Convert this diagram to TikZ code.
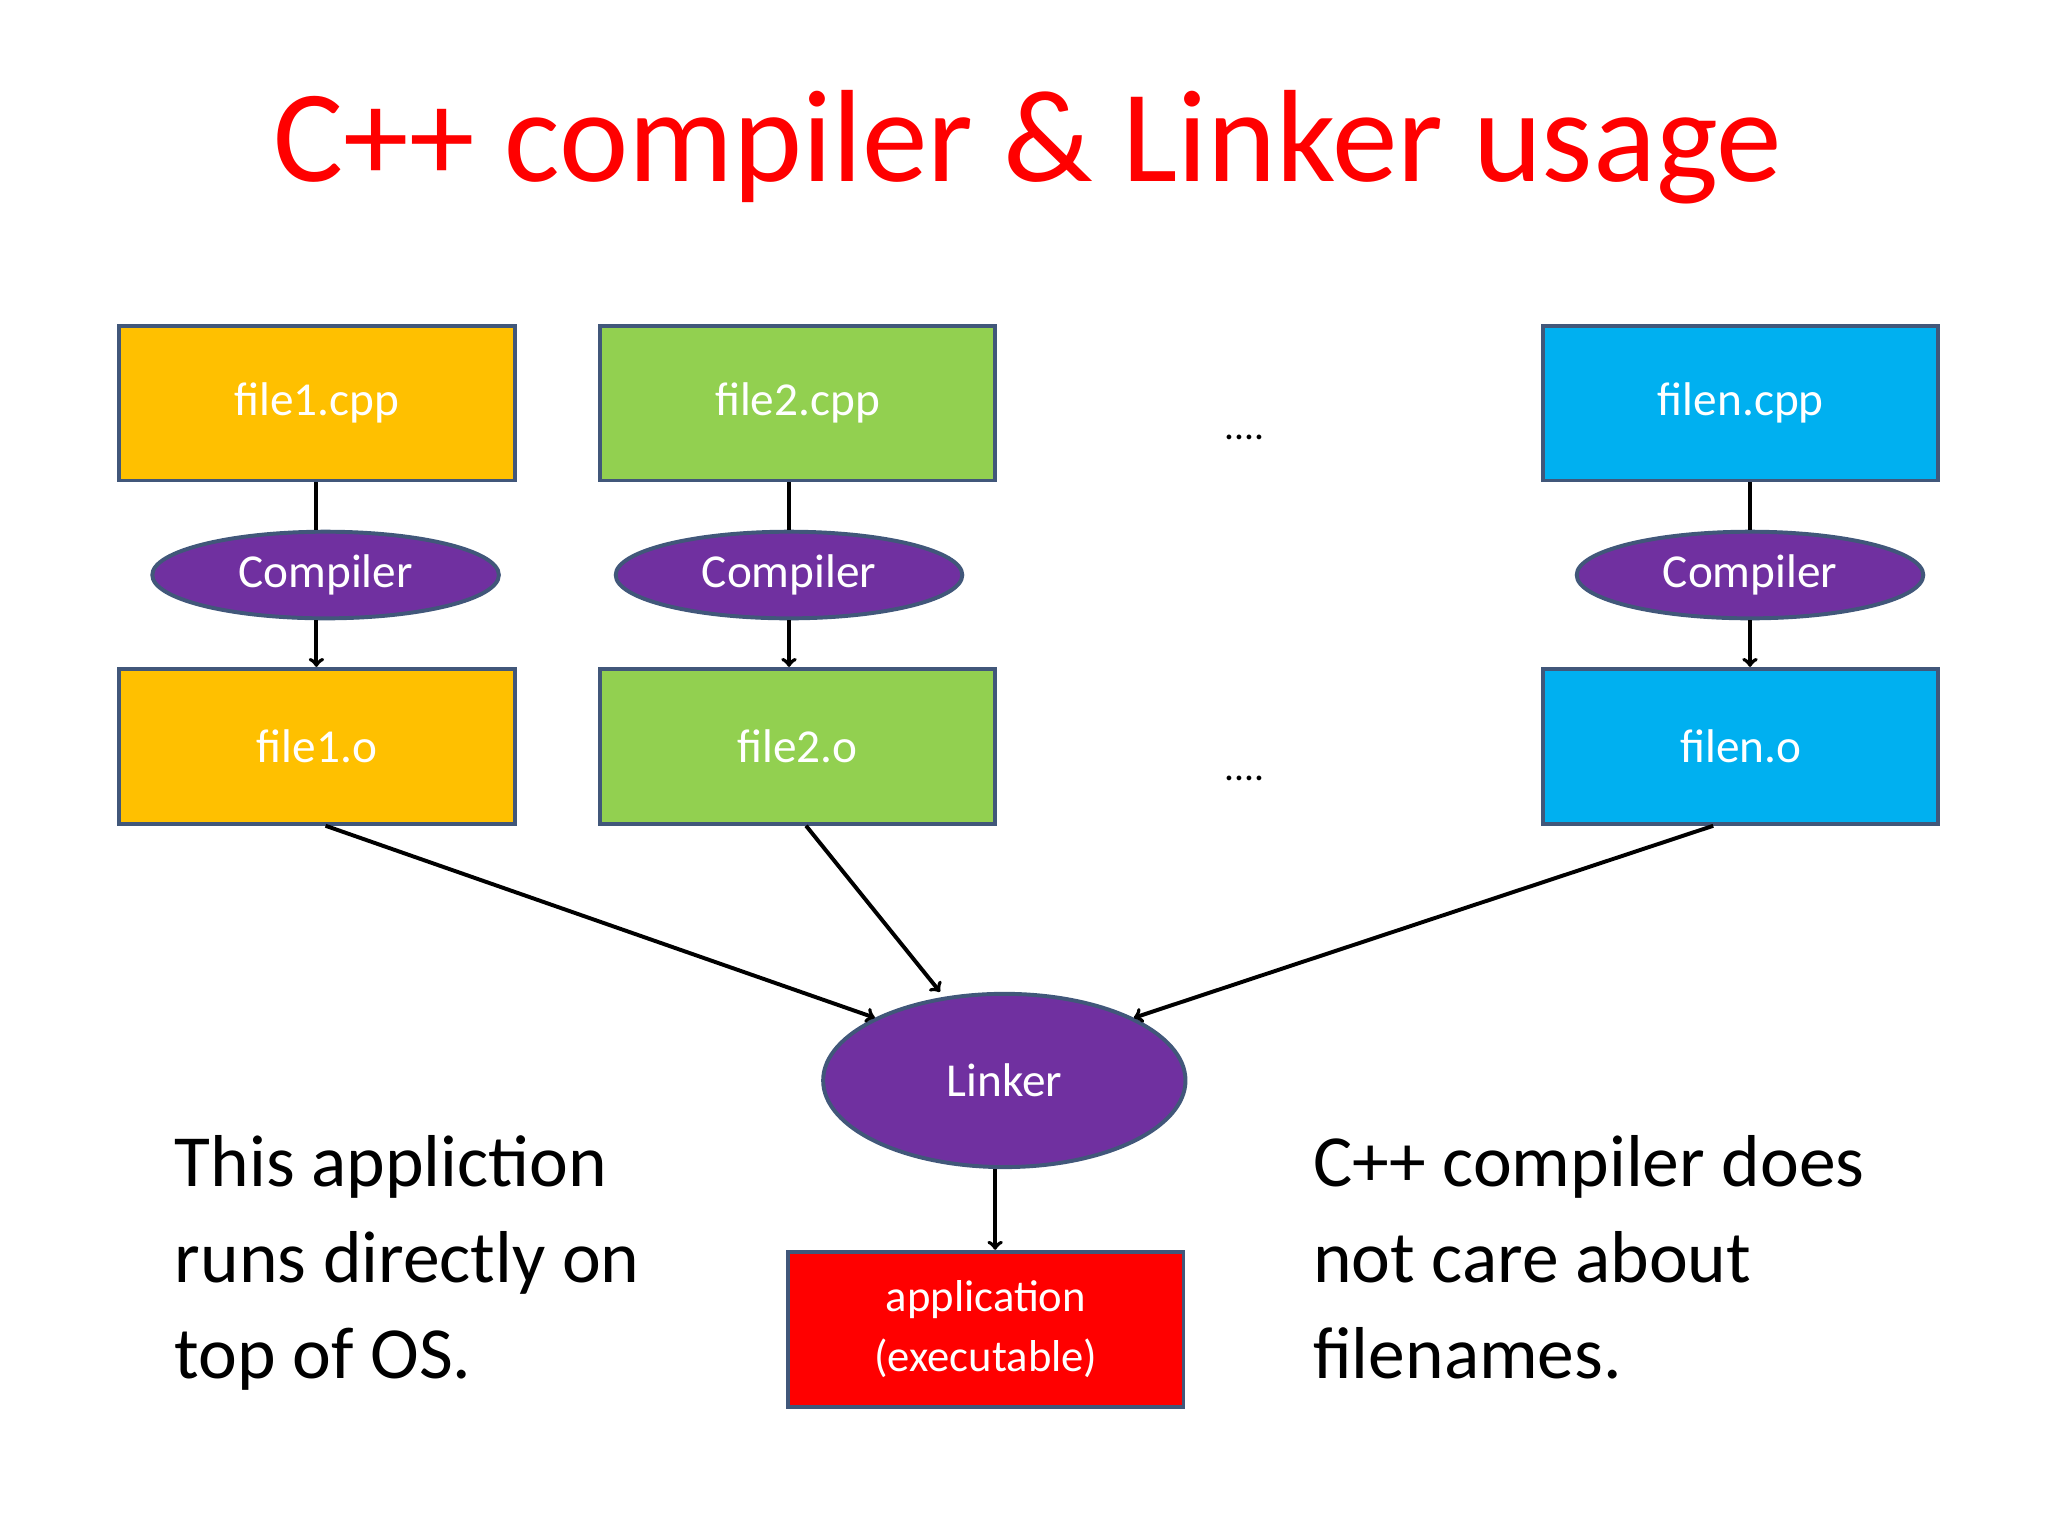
\documentclass[tikz,border=0pt]{standalone}
\usepackage{fontspec}
\setmainfont{Carlito}
\usetikzlibrary{shapes.geometric}
\definecolor{boxline}{HTML}{41577A}
\definecolor{cOrange}{HTML}{FFC000}
\definecolor{cGreen}{HTML}{92D050}
\definecolor{cBlue}{HTML}{00B0F0}
\definecolor{cPurple}{HTML}{7030A0}
\definecolor{cRed}{HTML}{FF0000}
\begin{document}
\begin{tikzpicture}[x=1pt,y=-1pt]
\tikzstyle{file}=[rectangle,draw=boxline,line width=3pt,minimum width=301pt,minimum height=118pt,text=white,font=\fontsize{36}{40}\selectfont]
\tikzstyle{tool}=[ellipse,draw=boxline,line width=3pt,fill=cPurple,text=white,font=\fontsize{36}{40}\selectfont]
\tikzstyle{link}=[line width=3pt,black]
\tikzstyle{note}=[align=left,anchor=north west,font=\fontsize{56}{73}\selectfont,inner sep=0pt]
\useasboundingbox (0,0) rectangle (1560,1170);

\node[font=\fontsize{100}{110}\selectfont,text=cRed](Title) at (783,112){C++ compiler \& Linker usage};

\node[file,fill=cOrange](Cpp1) at (241.5,307){file1.cpp};
\node[file,fill=cGreen](Cpp2) at (607.5,307){file2.cpp};
\node[file,fill=cBlue](CppN) at (1326,307){filen.cpp};
\node[tool,minimum width=264pt,minimum height=66pt](Comp1) at (248,438){Compiler};
\node[tool,minimum width=264pt,minimum height=66pt](Comp2) at (601,438){Compiler};
\node[tool,minimum width=264pt,minimum height=66pt](CompN) at (1333,438){Compiler};
\node[file,fill=cOrange](Obj1) at (241.5,568.5){file1.o};
\node[file,fill=cGreen](Obj2) at (607.5,568.5){file2.o};
\node[file,fill=cBlue](ObjN) at (1326,568.5){filen.o};
\node[font=\fontsize{30}{30}\selectfont](Dots1) at (948,333){....};
\node[font=\fontsize{30}{30}\selectfont](Dots2) at (948,593){....};
\node[tool,minimum width=276pt,minimum height=132pt](Linker) at (765,823){Linker};
\node[file,fill=cRed,align=center,font=\fontsize{34}{46}\selectfont](App) at (751,1012.5){application\\(executable)};

\node[note](NoteL) at (133,865){This appliction\\runs directly on\\top of OS.};
\node[note](NoteR) at (1000,865){C++ compiler does\\not care about\\filenames.};

\draw[link] (Cpp1.south -| 241,0) -- (Comp1.north -| 241,0);
\draw[link,->] (Comp1.south -| 241,0) -- (Obj1.north -| 241,0);
\draw[link] (Cpp2.south -| 601,0) -- (Comp2.north -| 601,0);
\draw[link,->] (Comp2.south -| 601,0) -- (Obj2.north -| 601,0);
\draw[link] (CppN.south -| 1333,0) -- (CompN.north -| 1333,0);
\draw[link,->] (CompN.south -| 1333,0) -- (ObjN.north -| 1333,0);
\draw[link,->] (Obj1.south -| 248,0) -- (Linker.north west);
\draw[link,->] (Obj2.south -| 614,0) -- (Linker.north -| 716,0);
\draw[link,->] (ObjN.south -| 1305,0) -- (Linker.north east);
\draw[link,->] (Linker.south -| 758,0) -- (App.north -| 758,0);

\end{tikzpicture}
\end{document}
